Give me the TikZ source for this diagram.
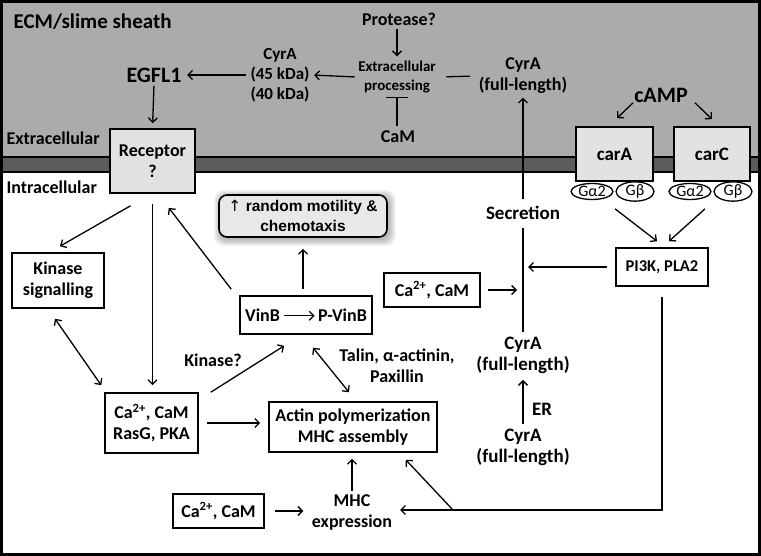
\documentclass[tikz,border=0pt]{standalone}
\usepackage{fontspec}
\setmainfont{Carlito}
\newfontfamily\arialf{Liberation Sans}
\newfontfamily\djv{DejaVu Sans}
\usetikzlibrary{arrows.meta,shapes.geometric}
\definecolor{ecmgray}{RGB}{171,171,171}
\definecolor{memgray}{RGB}{92,92,92}
\definecolor{boxgray}{RGB}{226,226,226}
\definecolor{motgray}{RGB}{232,232,232}
\begin{document}
\begin{tikzpicture}[x=1pt,y=-1pt,line width=1.3pt,
  >={Straight Barb[length=4.5pt,width=9pt]},
  lbl/.style={font=\bfseries\fontsize{18}{21}\selectfont,align=center,inner sep=1pt},
  midlbl/.style={lbl,font=\bfseries\fontsize{17}{20}\selectfont},
  cyrlbl/.style={lbl,font=\bfseries\fontsize{19}{21}\selectfont},
  smalllbl/.style={lbl,font=\bfseries\fontsize{15}{19}\selectfont},
  biglbl/.style={lbl,font=\bfseries\fontsize{22}{24}\selectfont},
  sidelbl/.style={lbl,anchor=west,font=\bfseries\fontsize{18}{20}\selectfont},
  box/.style={lbl,draw,line width=1.6pt,fill=white,inner sep=0pt},
  graybox/.style={box,fill=boxgray},
  gprot/.style={ellipse,draw,line width=1.3pt,fill=white,minimum width=42pt,minimum height=16pt,inner sep=0pt,font=\fontsize{16}{16}\selectfont},
  conn/.style={->},
  dconn/.style={<->},
]
\useasboundingbox (0,0) rectangle (761,556);
% background
\fill[ecmgray] (0,0) rectangle (761,157);
\fill[memgray] (0,157) rectangle (761,172);
\draw[line width=1.5pt] (0,157) -- (761,157) (0,172) -- (761,172);
\draw[line width=3pt] (1.5,1.5) rectangle (759.5,554.5);

% extracellular labels
\node[lbl,anchor=west,font=\bfseries\fontsize{21}{24}\selectfont] (ecm) at (12,22) {ECM/slime sheath};
\node[biglbl] (egfl) at (154,75) {EGFL1};
\node[midlbl] (cyr45) at (280,75) {CyrA\\(45 kDa)\\(40 kDa)};
\node[lbl] (prot) at (399,19) {Protease?};
\node[smalllbl] (proc) at (397,77) {Extracellular\\processing};
\node[lbl] (cam) at (398,137) {CaM};
\node[lbl] (cyrfull) at (523,76) {CyrA\\(full-length)};
\node[biglbl] (camp) at (661,95) {cAMP};
\node[sidelbl] (extra) at (5,138) {Extracellular};
\node[sidelbl] (intra) at (5,187) {Intracellular};

% receptors
\node[graybox,font=\bfseries\fontsize{19}{21}\selectfont,minimum width=77pt,minimum height=54pt] (cara) at (614.5,154) {carA};
\node[graybox,font=\bfseries\fontsize{19}{21}\selectfont,minimum width=76pt,minimum height=54pt] (carc) at (712,154) {carC};
\node[gprot] (ga1) at (592,191.5) {Gα2};
\node[gprot,minimum width=38pt] (gb1) at (635,191.5) {Gβ};
\node[gprot] (ga2) at (690,191.5) {Gα2};
\node[gprot,minimum width=38pt] (gb2) at (733,191.5) {Gβ};
\node[graybox,minimum width=85pt,minimum height=64pt] (rec) at (152.5,161) {Receptor\\?};

% motility box with glow
\foreach \i in {1,...,7}{
  \fill[black,opacity=0.045,rounded corners=9pt] (219-\i+2,195-\i+2) rectangle (387+\i+1.5,237+\i+2);
}
\node[draw,line width=1.6pt,fill=motgray,rounded corners=8pt,minimum width=168pt,minimum height=42pt,inner sep=0pt,align=center,font=\arialf\bfseries\fontsize{15.5}{20}\selectfont] (mot) at (303,216) {{\djv\mdseries ↑} random motility \&\\chemotaxis};

% intracellular boxes
\node[box,minimum width=92pt,minimum height=55pt] (kin) at (58,280.5) {Kinase\\signalling};
\node[box,minimum width=132pt,minimum height=38pt] (vinb) at (306,315) {VinB\,\tikz[baseline=-5.5pt,x=1pt,y=1pt]\draw[line width=1.2pt,->] (0,0) -- (31,0);\,P-VinB};
\node[box,minimum width=96pt,minimum height=34pt] (car) at (432,290) {Ca\textsuperscript{2+}, CaM};
\node[box,font=\bfseries\fontsize{16.5}{20}\selectfont,minimum width=92pt,minimum height=38pt] (pi3k) at (662,267) {PI3K, PLA2};
\node[box,minimum width=93pt,minimum height=60pt] (caras) at (151.5,423) {Ca\textsuperscript{2+}, CaM\\RasG, PKA};
\node[box,minimum width=168pt,minimum height=50pt] (actin) at (353,427) {Actin polymerization\\MHC assembly};
\node[box,minimum width=91pt,minimum height=34pt] (cab) at (218.5,511) {Ca\textsuperscript{2+}, CaM};
\node[lbl] (mhc) at (352,513) {MHC\\expression};
\node[cyrlbl] (secr) at (523,213) {Secretion};
\node[cyrlbl] (cyrmid) at (523,355) {CyrA\\(full-length)};
\node[cyrlbl] (cyrlow) at (523,447) {CyrA\\(full-length)};
\node[cyrlbl] (er) at (542,409) {ER};
\node[lbl] (kinq) at (213,360) {Kinase?};
\node[lbl] (talin) at (397,366) {Talin, α-actinin,\\Paxillin};

\coordinate (pin) at (528,267);
\coordinate (cin) at (517,290);
\coordinate (mhcin) at (400,510);
\coordinate (br) at (453,510);

% extracellular connectors
\draw[conn,shorten <=3pt,shorten >=4pt] (cyr45.west) -- (egfl.east);
\draw[conn,shorten <=2pt,shorten >=3pt] (proc.west) -- (cyr45.east);
\draw[shorten <=9pt,shorten >=7pt] (proc.east) -- (cyrfull.west);
\draw[conn,shorten <=2pt,shorten >=3pt] (prot.south -| proc.north) -- (proc.north);
\draw[-{Bar[width=22pt]},shorten <=3pt,shorten >=2pt] (cam.north -| proc.south) -- (proc.south);
\draw[conn,shorten <=2pt,shorten >=5pt] (egfl.south) -- (rec.north);
\draw[conn] ([xshift=-28pt,yshift=1pt]camp.south) -- ([xshift=2.5pt,yshift=8pt]cara.north);
\draw[conn] ([xshift=34pt,yshift=1pt]camp.south) -- ([xshift=0pt,yshift=7pt]carc.north);
\draw[conn] ([xshift=0.5pt,yshift=-27pt]cara.south) -- ([xshift=-5pt,yshift=6pt]pi3k.north);
\draw[conn] ([xshift=-7pt,yshift=-27pt]carc.south) -- ([xshift=7pt,yshift=6pt]pi3k.north);

% secretion pathway
\draw[conn,shorten <=6pt,shorten >=2pt] (secr.north) -- (secr.north |- cyrfull.south);
\draw[shorten <=7pt,shorten >=3pt] (secr.south) -- (secr.south |- cyrmid.north);
\draw[conn,shorten <=3pt,shorten >=5pt] (cyrlow.north) -- (cyrmid.south);
\draw[conn,shorten <=8pt] (pi3k.west) -- (pin);
\draw[conn,shorten <=7pt] (car.east) -- (cin);
\draw (pi3k.south) ++(0,10) |- (br);
\draw[conn] (br) -- (mhcin);
\draw[conn] (br) -- ([xshift=-32pt,yshift=-7pt]actin.south east);

% intracellular connectors
\draw[conn] ([xshift=-22pt,yshift=-12pt]rec.south) -- ([xshift=2pt,yshift=6pt]kin.north);
\draw[dconn] ([xshift=-3pt,yshift=-10pt]kin.south) -- ([xshift=-3pt,yshift=7pt]caras.north west);
\draw[conn,shorten <=10pt,shorten >=7pt] (rec.south) -- (rec.south |- caras.north);
\draw[conn] ([xshift=-8pt,yshift=6pt]vinb.north west) -- ([xshift=-27pt,yshift=-14pt]rec.south east);
\draw[conn,shorten <=6pt,shorten >=11pt] (vinb.north -| mot.south) -- (mot.south);
\draw[conn] ([xshift=12pt]caras.north east) -- ([xshift=45pt,yshift=-11pt]vinb.south west);
\draw[dconn] ([xshift=7pt,yshift=-13pt]vinb.south) -- ([xshift=-4pt,yshift=9pt]actin.north);
\draw[conn,shorten <=8pt,shorten >=8pt] (caras.east) -- (caras.east -| actin.west);
\draw[conn,shorten <=10pt,shorten >=7pt] (cab.east) -- (cab.east -| mhc.west);
\draw[conn,shorten <=3pt,shorten >=6pt] (mhc.north) -- (mhc.north |- actin.south);
\end{tikzpicture}
\end{document}
